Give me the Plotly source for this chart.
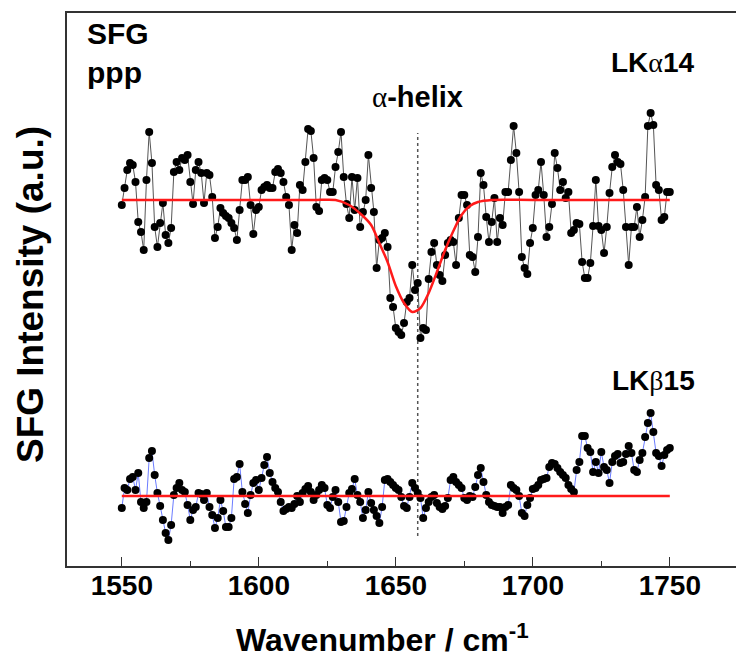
import plotly.graph_objects as go

# Wavenumber grid (cm^-1), 1 cm^-1 steps
wavenumber = list(range(1550, 1751))

# LKalpha14 SFG intensity (a.u.)
lka14 = [
    361, 378, 396, 403, 401, 384, 344, 334, 316, 386,
    434, 403, 339, 319, 343, 363, 331, 323, 338, 394,
    404, 396, 408, 406, 411, 384, 362, 396, 404, 393,
    363, 393, 391, 369, 328, 339, 358, 353, 350, 348,
    343, 338, 326, 356, 386, 386, 389, 361, 332, 356,
    359, 376, 379, 381, 378, 378, 394, 397, 393, 384,
    369, 361, 316, 341, 333, 381, 376, 404, 437, 435,
    408, 359, 355, 386, 388, 386, 374, 374, 399, 414,
    434, 389, 362, 348, 389, 356, 388, 339, 354, 366,
    411, 378, 354, 298, 326, 328, 333, 319, 268, 259,
    238, 234, 231, 243, 264, 268, 301, 276, 283, 228,
    238, 236, 287, 314, 323, 301, 291, 285, 311, 323,
    326, 324, 301, 348, 371, 371, 361, 311, 309, 294,
    329, 393, 381, 349, 324, 344, 368, 324, 348, 341,
    374, 374, 406, 440, 413, 374, 309, 298, 292, 323,
    338, 371, 376, 404, 371, 329, 339, 362, 413, 398,
    376, 384, 368, 374, 333, 336, 343, 342, 304, 288,
    288, 303, 340, 386, 340, 336, 313, 339, 373, 399,
    411, 404, 402, 376, 339, 301, 339, 339, 359, 329,
    346, 369, 440, 453, 441, 381, 376, 346, 349, 374,
    374,
]

# LKbeta15 SFG intensity (a.u.)
lkb15 = [
    58, 78, 76, 87, 89, 76, 93, 64, 58, 64,
    108, 115, 91, 73, 60, 46, 33, 26, 41, 71,
    78, 83, 76, 74, 61, 46, 56, 59, 73, 72,
    66, 73, 59, 51, 38, 48, 66, 55, 39, 39,
    48, 87, 89, 102, 74, 62, 53, 71, 83, 86,
    76, 88, 101, 109, 93, 84, 78, 74, 64, 55,
    57, 59, 58, 62, 70, 64, 73, 77, 80, 74,
    66, 71, 76, 81, 78, 61, 58, 69, 76, 64,
    44, 45, 59, 73, 77, 87, 71, 64, 48, 56,
    74, 63, 56, 50, 43, 59, 86, 87, 84, 81,
    78, 76, 69, 60, 58, 69, 83, 78, 73, 68,
    48, 58, 64, 69, 71, 63, 59, 57, 60, 68,
    86, 89, 84, 81, 78, 68, 66, 70, 69, 79,
    91, 98, 84, 71, 64, 61, 60, 59, 59, 53,
    59, 61, 81, 78, 76, 70, 53, 50, 61, 68,
    77, 78, 81, 86, 87, 88, 99, 103, 102, 98,
    94, 91, 88, 81, 77, 74, 96, 104, 130, 130,
    118, 114, 94, 104, 93, 114, 99, 96, 83, 104,
    110, 112, 103, 104, 112, 120, 113, 96, 94, 106,
    113, 129, 143, 153, 134, 113, 110, 100, 111, 116,
    118,
]

# Fitted curve (red) for LKalpha14
fit_a_x = [1550, 1600, 1620, 1628, 1633, 1638, 1641, 1644, 1647, 1650, 1653,
           1656, 1659, 1662, 1665, 1668, 1671, 1674, 1677, 1680, 1685, 1700, 1750]
fit_a_y = [366, 366, 366, 366, 361, 350, 341, 323, 304, 280, 263,
           254, 258, 273, 294, 316, 335, 351, 360, 364, 366, 366, 366]

# Fitted baseline (red) for LKbeta15
fit_b_x = [1550, 1750]
fit_b_y = [70, 70]

# alpha-helix marker position
helix_x = [1658, 1658]
helix_y = [30, 433]

x_ticks = [1550, 1600, 1650, 1700, 1750]

FONT = "Liberation Sans, Arial, sans-serif"
GREEK = "<span style='font-family:Liberation Serif;font-weight:normal'>{}</span>"

fig = go.Figure()
fig.add_trace(go.Scatter(x=helix_x, y=helix_y, mode="lines",
                         line=dict(color="#555555", width=1.5, dash="dot"),
                         hoverinfo="skip", showlegend=False))
fig.add_trace(go.Scatter(x=wavenumber, y=lka14, mode="lines+markers",
                         line=dict(color="#555555", width=1),
                         marker=dict(color="black", size=8),
                         showlegend=False))
fig.add_trace(go.Scatter(x=wavenumber, y=lkb15, mode="lines+markers",
                         line=dict(color="#6b7cff", width=1),
                         marker=dict(color="black", size=8),
                         showlegend=False))
fig.add_trace(go.Scatter(x=fit_a_x, y=fit_a_y, mode="lines",
                         line=dict(color="#ff1a1a", width=2.5, shape="spline", smoothing=0.8),
                         showlegend=False))
fig.add_trace(go.Scatter(x=fit_b_x, y=fit_b_y, mode="lines",
                         line=dict(color="#ff1a1a", width=2.5),
                         showlegend=False))

ann_font = dict(family=FONT, size=29, color="black", weight="bold")
fig.add_annotation(x=0.026, y=0.996, xref="paper", yref="paper", xanchor="left", yanchor="top",
                   text="SFG<br>ppp", showarrow=False, align="left", font=dict(ann_font, size=30))
fig.add_annotation(x=1744, y=504, xref="x", yref="y", text="LK" + GREEK.format("α") + "14",
                   showarrow=False, font=dict(ann_font, size=28))
fig.add_annotation(x=1658, y=469, xref="x", yref="y", text=GREEK.format("α") + "-helix",
                   showarrow=False, font=ann_font)
fig.add_annotation(x=1744, y=186, xref="x", yref="y", text="LK" + GREEK.format("β") + "15",
                   showarrow=False, font=dict(ann_font, size=28))

# Axis titles
fig.add_annotation(x=0.46, y=-0.13, xref="paper", yref="paper", yanchor="middle",
                   text="Wavenumber / cm<sup>-1</sup>", showarrow=False,
                   font=dict(family=FONT, size=32, color="black", weight="bold"))
fig.add_annotation(x=-0.054, y=0.49, xref="paper", yref="paper", xanchor="center", yanchor="middle",
                   text="SFG Intensity (a.u.)", textangle=-90, showarrow=False,
                   font=dict(family=FONT, size=37, color="black", weight="bold"))

# The page body adds an 8px offset, so margins are set to place the frame as in the reference
fig.update_layout(
    width=744, height=660,
    margin=dict(l=59, r=0, t=5, b=102),
    paper_bgcolor="white", plot_bgcolor="white",
    font=dict(family=FONT, color="black"),
    xaxis=dict(range=[1530, 1780], tickvals=x_ticks, ticks="inside", ticklen=9, tickwidth=1.2,
               tickcolor="#333333", automargin=False, ticklabelstandoff=-6,
               minor=dict(dtick=25, tick0=1525, ticks="inside", ticklen=5, tickcolor="#333333"),
               showline=True, linecolor="#333333", linewidth=1.5, mirror=True,
               showgrid=False, zeroline=False,
               tickfont=dict(family=FONT, size=28, weight="bold")),
    yaxis=dict(range=[0, 553], showticklabels=False, ticks="", showline=True, linecolor="#333333",
               linewidth=1.5, showgrid=False, zeroline=False, automargin=False),
)

fig.write_html("out.html")
